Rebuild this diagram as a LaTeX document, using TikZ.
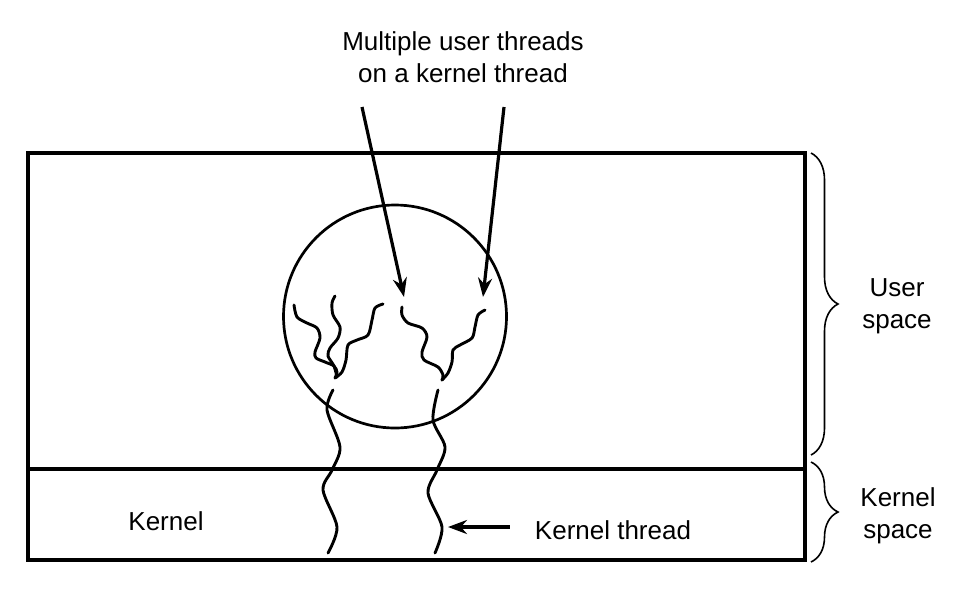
\documentclass[tikz,border=0pt]{standalone}
\usepackage{fontspec}
\setmainfont{Liberation Sans}
\usetikzlibrary{arrows.meta,decorations.pathreplacing}
\begin{document}
\begin{tikzpicture}[x=1pt,y=-1pt]
  \tikzstyle{txt}=[font=\fontsize{26}{32}\selectfont,align=center,inner sep=0pt]
  \tikzstyle{thread}=[draw,line width=2.9pt,line cap=round]
  \tikzstyle{pointer}=[draw,line width=3.2pt,-{Stealth[length=19pt,width=14pt]}]
  \tikzstyle{curly}=[draw,line width=1.6pt,decorate,decoration={brace,amplitude=27pt}]
  \useasboundingbox (0,0) rectangle (965,590);
  % address space
  \draw[line width=3.3pt] (28,153) rectangle (805,560);
  \draw[line width=3.3pt] (28,469) -- (805,469);
  \node[circle,draw,line width=2.7pt,minimum size=223pt,inner sep=0pt] (proc) at (395,316.5) {};
  % labels
  \node[txt] (caption) at (463,57) {Multiple user threads\\on a kernel thread};
  \node[txt] (kernel) at (166,521) {Kernel};
  \node[txt] (kthr) at (613,530) {Kernel thread};
  \node[txt] (uspace) at (897,306) {User\\space};
  \node[txt] (kspace) at (898,516) {Kernel\\space};
  % braces
  \path[curly] (811,153) -- (811,455);
  \path[curly] (811,462) -- (811,562);
  % user threads
  \draw[thread] plot[smooth] coordinates {(294,305) (297,317) (307,323) (317,328) (320,338) (315,352) (316,358) (325,362) (334,366) (337,372) (335,378)};
  \draw[thread] plot[smooth] coordinates {(335,296) (332,303) (333,315) (340,327) (338,338) (330,348) (328,356) (334,366) (337,377)};
  \draw[thread] plot[smooth] coordinates {(383,304) (375,308) (372,320) (368,335) (357,340) (348,345) (346,360) (342,372) (335,378)};
  \draw[thread] plot[smooth] coordinates {(402,307) (402,315) (408,323) (422,328) (427,337) (422,352) (424,360) (438,367) (443,375) (442,380)};
  \draw[thread] plot[smooth] coordinates {(485,310) (478,315) (475,327) (472,338) (460,345) (453,350) (452,362) (448,373) (442,380)};
  % kernel threads
  \draw[thread] plot[smooth] coordinates {(333,390) (327,410) (340,447) (332,470) (323,490) (337,527) (328,553)};
  \draw[thread] plot[smooth] coordinates {(438,390) (433,420) (445,447) (437,470) (428,493) (442,527) (435,553)};
  % arrows
  \coordinate (p1) at (362,107);
  \coordinate (t1) at (404,297);
  \coordinate (p2) at (504,107);
  \coordinate (t2) at (483,297);
  \coordinate (kt) at (448,527);
  \path[pointer] (p1) -- (t1);
  \path[pointer] (p2) -- (t2);
  \path[pointer] ([xshift=-25pt]kthr.west |- kt) -- (kt);
\end{tikzpicture}
\end{document}
